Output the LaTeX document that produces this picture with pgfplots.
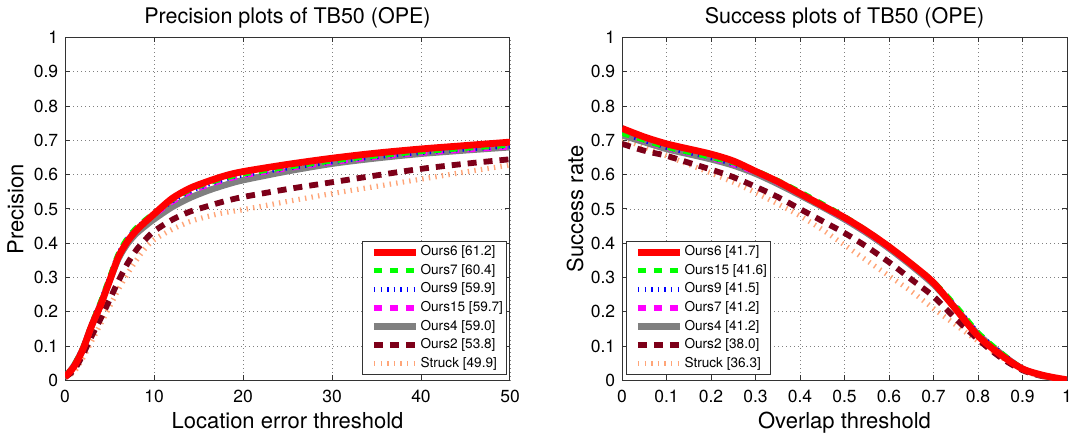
\documentclass[border=0pt]{standalone}
\usepackage{fontspec}
\setmainfont{TeX Gyre Heros}
\usepackage{pgfplots}
\pgfplotsset{compat=1.18}
\definecolor{cRed}{RGB}{255,0,0}
\definecolor{cGreen}{RGB}{0,255,0}
\definecolor{cBlue}{RGB}{0,0,255}
\definecolor{cMag}{RGB}{255,0,255}
\definecolor{cGray}{RGB}{128,128,128}
\definecolor{cDark}{RGB}{125,0,25}
\definecolor{cOrange}{RGB}{255,165,120}
\pgfplotsset{
  every axis title shift=0pt,
  myaxis/.style={
    scale only axis, width=222.5pt, height=171.5pt,
    ymin=0, ymax=1,
    ytick={0,0.1,0.2,0.3,0.4,0.5,0.6,0.7,0.8,0.9,1},
    /pgf/number format/assume math mode=true,
    tick label style={font=\fontsize{8.75}{10}\selectfont},
    yticklabel style={inner sep=0pt, xshift=-3.2pt},
    xticklabel style={anchor=base, inner sep=0pt, yshift=-11pt},
    tick align=inside, major tick length=2.5pt,
    axis line style={black!80, line width=0.5pt},
    every tick/.style={black!80, line width=0.5pt},
    grid=major,
    major grid style={black!50, line width=0.4pt, dash pattern=on 0.4pt off 1.6pt},
    title style={at={(axis description cs:0.5,1.0394)}, anchor=base, inner sep=0pt, font=\fontsize{10.75}{12}\selectfont},
    xlabel style={at={(axis description cs:0.5,-0.13994)}, anchor=base, inner sep=0pt, font=\fontsize{11}{13}\selectfont},
    ylabel style={anchor=base, inner sep=0pt, font=\fontsize{11}{13}\selectfont},
    legend style={font=\fontsize{6.8}{8}\selectfont, draw=black!80, line width=0.5pt,
      inner xsep=1pt, inner ysep=0.8pt, row sep=0pt, nodes={inner xsep=0.6pt, inner ysep=1.35pt}, cells={anchor=west}},
    legend image code/.code={\path (-3pt,0pt); \draw[#1] (0pt,0pt) -- (21pt,0pt);},
    reverse legend,
  },
  sRed/.style={cRed, line width=3.4pt, solid},
  sGreen/.style={cGreen, line width=2.6pt, dash pattern=on 4pt off 4pt},
  sBlue/.style={cBlue, line width=2.6pt, dash pattern=on 0.7pt off 2.6pt},
  sMag/.style={cMag, line width=2.6pt, dash pattern=on 4pt off 4pt},
  sGray/.style={cGray, line width=3.2pt, solid},
  sDark/.style={cDark, line width=2.9pt, dash pattern=on 4.5pt off 3.5pt},
  sOrange/.style={cOrange, line width=2.6pt, dash pattern=on 0.7pt off 2.6pt},
}
\begin{document}
\begin{tikzpicture}
\useasboundingbox (-32.5pt,-26.25pt) rectangle (502.5pt,190.25pt);
% ---------------- Precision ----------------
\begin{axis}[myaxis,
  at={(0pt,0pt)}, anchor=south west,
  xmin=0, xmax=50, xtick={0,10,20,30,40,50},
  title={Precision plots of TB50 (OPE)},
  xlabel={Location error threshold},
  ylabel={Precision},
  ylabel style={at={(axis description cs:-0.0933,0.5)}},
  legend style={at={(axis description cs:1,0)}, anchor=south east, xshift=-1.65pt, yshift=2.75pt},
]
\addplot[sOrange, smooth] coordinates {(0,0.01)(1,0.025)(2,0.065)(3,0.115)(4,0.165)(5,0.215)(6,0.265)(7,0.31)(8,0.35)(9,0.385)(10,0.41)(12,0.44)(14,0.463)(16,0.478)(18,0.49)(20,0.498)(25,0.522)(30,0.545)(35,0.566)(40,0.587)(45,0.608)(50,0.628)};
\addlegendentry{Struck [49.9]}
\addplot[sDark, smooth] coordinates {(0,0.01)(1,0.03)(2,0.075)(3,0.13)(4,0.18)(5,0.235)(6,0.29)(7,0.34)(8,0.38)(9,0.41)(10,0.435)(12,0.468)(14,0.492)(16,0.508)(18,0.523)(20,0.535)(25,0.558)(30,0.578)(35,0.598)(40,0.617)(45,0.632)(50,0.645)};
\addlegendentry{Ours2 [53.8]}
\addplot[sGray, smooth] coordinates {(0,0.01)(1,0.043)(2,0.092)(3,0.16)(4,0.222)(5,0.29)(6,0.355)(7,0.398)(8,0.428)(9,0.45)(10,0.47)(12,0.505)(14,0.532)(16,0.553)(18,0.57)(20,0.584)(25,0.61)(30,0.632)(35,0.648)(40,0.661)(45,0.671)(50,0.68)};
\addlegendentry{Ours4 [59.0]}
\addplot[sMag, smooth] coordinates {(0,0.01)(1,0.044)(2,0.094)(3,0.163)(4,0.226)(5,0.296)(6,0.364)(7,0.408)(8,0.438)(9,0.462)(10,0.482)(12,0.52)(14,0.549)(16,0.569)(18,0.585)(20,0.597)(25,0.618)(30,0.636)(35,0.651)(40,0.663)(45,0.672)(50,0.681)};
\addlegendentry{Ours15 [59.7]}
\addplot[sBlue, smooth] coordinates {(0,0.01)(1,0.045)(2,0.095)(3,0.165)(4,0.228)(5,0.298)(6,0.367)(7,0.412)(8,0.442)(9,0.465)(10,0.485)(12,0.523)(14,0.552)(16,0.572)(18,0.588)(20,0.6)(25,0.62)(30,0.638)(35,0.653)(40,0.665)(45,0.675)(50,0.684)};
\addlegendentry{Ours9 [59.9]}
\addplot[sGreen, smooth] coordinates {(0,0.01)(1,0.045)(2,0.095)(3,0.165)(4,0.23)(5,0.3)(6,0.37)(7,0.415)(8,0.445)(9,0.468)(10,0.488)(12,0.526)(14,0.555)(16,0.575)(18,0.59)(20,0.602)(25,0.622)(30,0.64)(35,0.655)(40,0.667)(45,0.677)(50,0.686)};
\addlegendentry{Ours7 [60.4]}
\addplot[sRed, smooth] coordinates {(0,0.01)(1,0.04)(2,0.09)(3,0.16)(4,0.22)(5,0.29)(6,0.36)(7,0.405)(8,0.437)(9,0.462)(10,0.485)(12,0.53)(14,0.56)(16,0.58)(18,0.597)(20,0.609)(25,0.63)(30,0.648)(35,0.663)(40,0.675)(45,0.685)(50,0.695)};
\addlegendentry{Ours6 [61.2]}
\end{axis}
% ---------------- Success ----------------
\begin{axis}[myaxis,
  at={(278.5pt,0pt)}, anchor=south west,
  xmin=0, xmax=1, xtick={0,0.1,0.2,0.3,0.4,0.5,0.6,0.7,0.8,0.9,1},
  title={Success plots of TB50 (OPE)},
  xlabel={Overlap threshold},
  ylabel={Success rate},
  ylabel style={at={(axis description cs:-0.0876,0.5)}},
  legend style={at={(axis description cs:0,0)}, anchor=south west, xshift=2pt, yshift=2.75pt},
]
\addplot[sOrange, smooth] coordinates {(0,0.705)(0.05,0.68)(0.1,0.655)(0.15,0.63)(0.2,0.605)(0.25,0.578)(0.3,0.548)(0.35,0.515)(0.4,0.48)(0.45,0.44)(0.5,0.395)(0.55,0.35)(0.6,0.305)(0.65,0.26)(0.7,0.21)(0.75,0.162)(0.8,0.115)(0.85,0.07)(0.9,0.03)(0.95,0.01)(1,0)};
\addlegendentry{Struck [36.3]}
\addplot[sDark, smooth] coordinates {(0,0.69)(0.05,0.67)(0.1,0.655)(0.15,0.635)(0.2,0.615)(0.25,0.593)(0.3,0.565)(0.35,0.535)(0.4,0.5)(0.45,0.465)(0.5,0.43)(0.55,0.39)(0.6,0.345)(0.65,0.295)(0.7,0.245)(0.75,0.18)(0.8,0.12)(0.85,0.068)(0.9,0.03)(0.95,0.011)(1,0)};
\addlegendentry{Ours2 [38.0]}
\addplot[sGray, smooth] coordinates {(0,0.715)(0.05,0.695)(0.1,0.675)(0.15,0.66)(0.2,0.645)(0.25,0.627)(0.3,0.603)(0.35,0.573)(0.4,0.54)(0.45,0.506)(0.5,0.47)(0.55,0.43)(0.6,0.385)(0.65,0.335)(0.7,0.28)(0.75,0.21)(0.8,0.135)(0.85,0.08)(0.9,0.034)(0.95,0.013)(1,0)};
\addlegendentry{Ours4 [41.2]}
\addplot[sMag, smooth] coordinates {(0,0.72)(0.05,0.698)(0.1,0.678)(0.15,0.663)(0.2,0.648)(0.25,0.63)(0.3,0.607)(0.35,0.577)(0.4,0.543)(0.45,0.508)(0.5,0.472)(0.55,0.432)(0.6,0.387)(0.65,0.337)(0.7,0.283)(0.75,0.213)(0.8,0.137)(0.85,0.081)(0.9,0.034)(0.95,0.013)(1,0)};
\addlegendentry{Ours7 [41.2]}
\addplot[sBlue, smooth] coordinates {(0,0.722)(0.05,0.7)(0.1,0.68)(0.15,0.665)(0.2,0.65)(0.25,0.632)(0.3,0.609)(0.35,0.579)(0.4,0.546)(0.45,0.511)(0.5,0.475)(0.55,0.435)(0.6,0.389)(0.65,0.339)(0.7,0.285)(0.75,0.215)(0.8,0.138)(0.85,0.082)(0.9,0.035)(0.95,0.013)(1,0)};
\addlegendentry{Ours9 [41.5]}
\addplot[sGreen, smooth] coordinates {(0,0.72)(0.05,0.7)(0.1,0.68)(0.15,0.665)(0.2,0.65)(0.25,0.635)(0.3,0.612)(0.35,0.583)(0.4,0.55)(0.45,0.515)(0.5,0.478)(0.55,0.437)(0.6,0.392)(0.65,0.342)(0.7,0.288)(0.75,0.218)(0.8,0.14)(0.85,0.083)(0.9,0.035)(0.95,0.013)(1,0)};
\addlegendentry{Ours15 [41.6]}
\addplot[sRed, smooth] coordinates {(0,0.735)(0.05,0.71)(0.1,0.69)(0.15,0.675)(0.2,0.66)(0.25,0.64)(0.3,0.61)(0.35,0.58)(0.4,0.545)(0.45,0.51)(0.5,0.475)(0.55,0.435)(0.6,0.39)(0.65,0.34)(0.7,0.285)(0.75,0.208)(0.8,0.13)(0.85,0.076)(0.9,0.034)(0.95,0.014)(1,0.002)};
\addlegendentry{Ours6 [41.7]}
\end{axis}
\end{tikzpicture}
\end{document}
